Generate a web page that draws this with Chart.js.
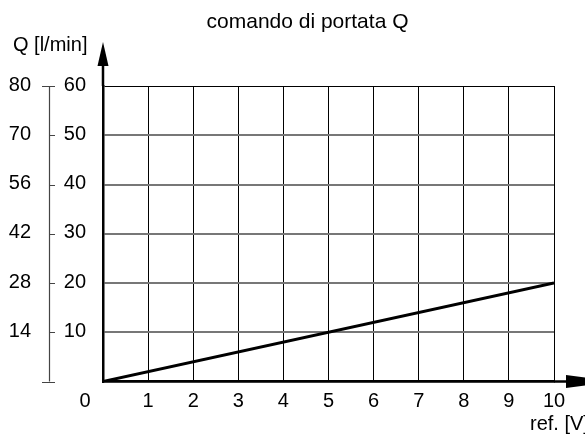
<!DOCTYPE html>
<html><head><meta charset="utf-8">
<script src="https://cdn.jsdelivr.net/npm/chart.js@4"></script>
<style>html,body{margin:0;padding:0;background:#fff}#wrap{width:585px;height:441px;position:relative}</style>
</head><body><div id="wrap"><canvas id="c" width="585" height="441"></canvas></div>
<script>
const titleText = 'comando di portata Q';
const refVolts = [0, 10];
const flowValues = [0, 20];
const xTickValues = [0, 1, 2, 3, 4, 5, 6, 7, 8, 9, 10];
const innerTickValues = [0, 10, 20, 30, 40, 50, 60];
const outerTickValues = [10, 20, 30, 40, 50, 60];
const outerTickLabels = ['14', '28', '42', '56', '70', '80'];
const yAxisLabel = 'Q [l/min]';
const xAxisLabel = 'ref. [V]';

Chart.defaults.font.family = "'Liberation Sans', Arial, sans-serif";
Chart.defaults.color = '#000';

const FONT = "20px 'Liberation Sans', Arial, sans-serif";

const extras = {
  id: 'extras',
  afterDraw(chart) {
    const ctx = chart.ctx;
    const xs = chart.scales.x, ys = chart.scales.y;
    const a = chart.chartArea;
    ctx.save();
    // outer scale
    const ox = 49.5;
    ctx.strokeStyle = '#444';
    ctx.lineWidth = 1.2;
    ctx.beginPath();
    ctx.moveTo(ox, ys.getPixelForValue(0));
    ctx.lineTo(ox, ys.getPixelForValue(60));
    ctx.stroke();
    ctx.beginPath();
    [0, 60].forEach(v => { const p = Math.round(ys.getPixelForValue(v)) + 0.5; ctx.moveTo(42, p); ctx.lineTo(55, p); });
    outerTickValues.forEach(v => { const p = Math.round(ys.getPixelForValue(v)) + 0.5; ctx.moveTo(ox, p); ctx.lineTo(55, p); });
    ctx.stroke();
    ctx.fillStyle = '#000';
    ctx.font = FONT;
    ctx.textAlign = 'right';
    ctx.textBaseline = 'middle';
    outerTickValues.forEach((v, i) => ctx.fillText(outerTickLabels[i], 31, ys.getPixelForValue(v) - 1));
    // x "0" label
    ctx.textAlign = 'center';
    ctx.fillText('0', xs.getPixelForValue(0) - 18, xs.top + 8 + 12);
    // axis titles
    ctx.textAlign = 'left';
    ctx.textBaseline = 'alphabetic';
    ctx.fillText(yAxisLabel, 13, 51);
    ctx.fillText(xAxisLabel, 530, 430);
    // arrows
    ctx.strokeStyle = '#000';
    ctx.fillStyle = '#000';
    ctx.lineWidth = 2.5;
    const lx = a.left, by = a.bottom;
    ctx.beginPath();
    ctx.moveTo(lx, a.top); ctx.lineTo(lx, 60);
    ctx.moveTo(a.right, by); ctx.lineTo(585, by);
    ctx.stroke();
    ctx.beginPath();
    ctx.moveTo(lx, 42); ctx.lineTo(lx - 5.5, 66); ctx.lineTo(lx + 5.5, 66); ctx.closePath();
    ctx.fill();
    ctx.beginPath();
    ctx.moveTo(616, by); ctx.lineTo(566, by - 6.5); ctx.lineTo(566, by + 6.5); ctx.closePath();
    ctx.fill();
    ctx.restore();
  }
};

new Chart(document.getElementById('c'), {
  type: 'line',
  data: {
    datasets: [{
      data: refVolts.map((v, i) => ({ x: v, y: flowValues[i] })),
      borderColor: '#000',
      borderWidth: 3,
      pointRadius: 0,
      tension: 0,
      fill: false
    }]
  },
  options: {
    responsive: false,
    animation: false,
    devicePixelRatio: 1,
    layout: { padding: { left: 61, right: 31, top: 0, bottom: 0 } },
    plugins: {
      legend: { display: false },
      tooltip: { enabled: false },
      title: {
        display: true,
        text: titleText,
        color: '#000',
        font: { size: 21, weight: 'normal' },
        padding: { top: 10, bottom: 50.8 }
      }
    },
    scales: {
      x: {
        type: 'linear',
        min: 0, max: 10,
        afterBuildTicks: s => { s.ticks = xTickValues.map(v => ({ value: v })); },
        ticks: {
          callback: v => v === 0 ? '' : String(v),
          font: { size: 20 },
          color: '#000',
          padding: 8,
          maxRotation: 0,
          autoSkip: false
        },
        grid: { color: '#000', lineWidth: 1, drawTicks: false },
        border: { color: '#000', width: 2.5 },
        afterFit: s => { s.height = 59.5; s.paddingLeft = 0; s.paddingRight = 0; }
      },
      y: {
        type: 'linear',
        min: 0, max: 60,
        afterBuildTicks: s => { s.ticks = innerTickValues.map(v => ({ value: v })); },
        ticks: {
          callback: v => v === 0 ? '' : String(v),
          font: { size: 20 },
          color: '#000',
          padding: 17,
          labelOffset: -1
        },
        grid: {
          color: c => (c.tick && c.tick.value === 60) ? '#000' : '#777',
          lineWidth: c => (c.tick && c.tick.value === 60) ? 1 : 2,
          drawTicks: false
        },
        border: { color: '#000', width: 2.5 },
        afterFit: s => { s.width = 42; s.paddingTop = 0; s.paddingBottom = 0; }
      }
    }
  },
  plugins: [extras]
});
</script>
</body></html>
